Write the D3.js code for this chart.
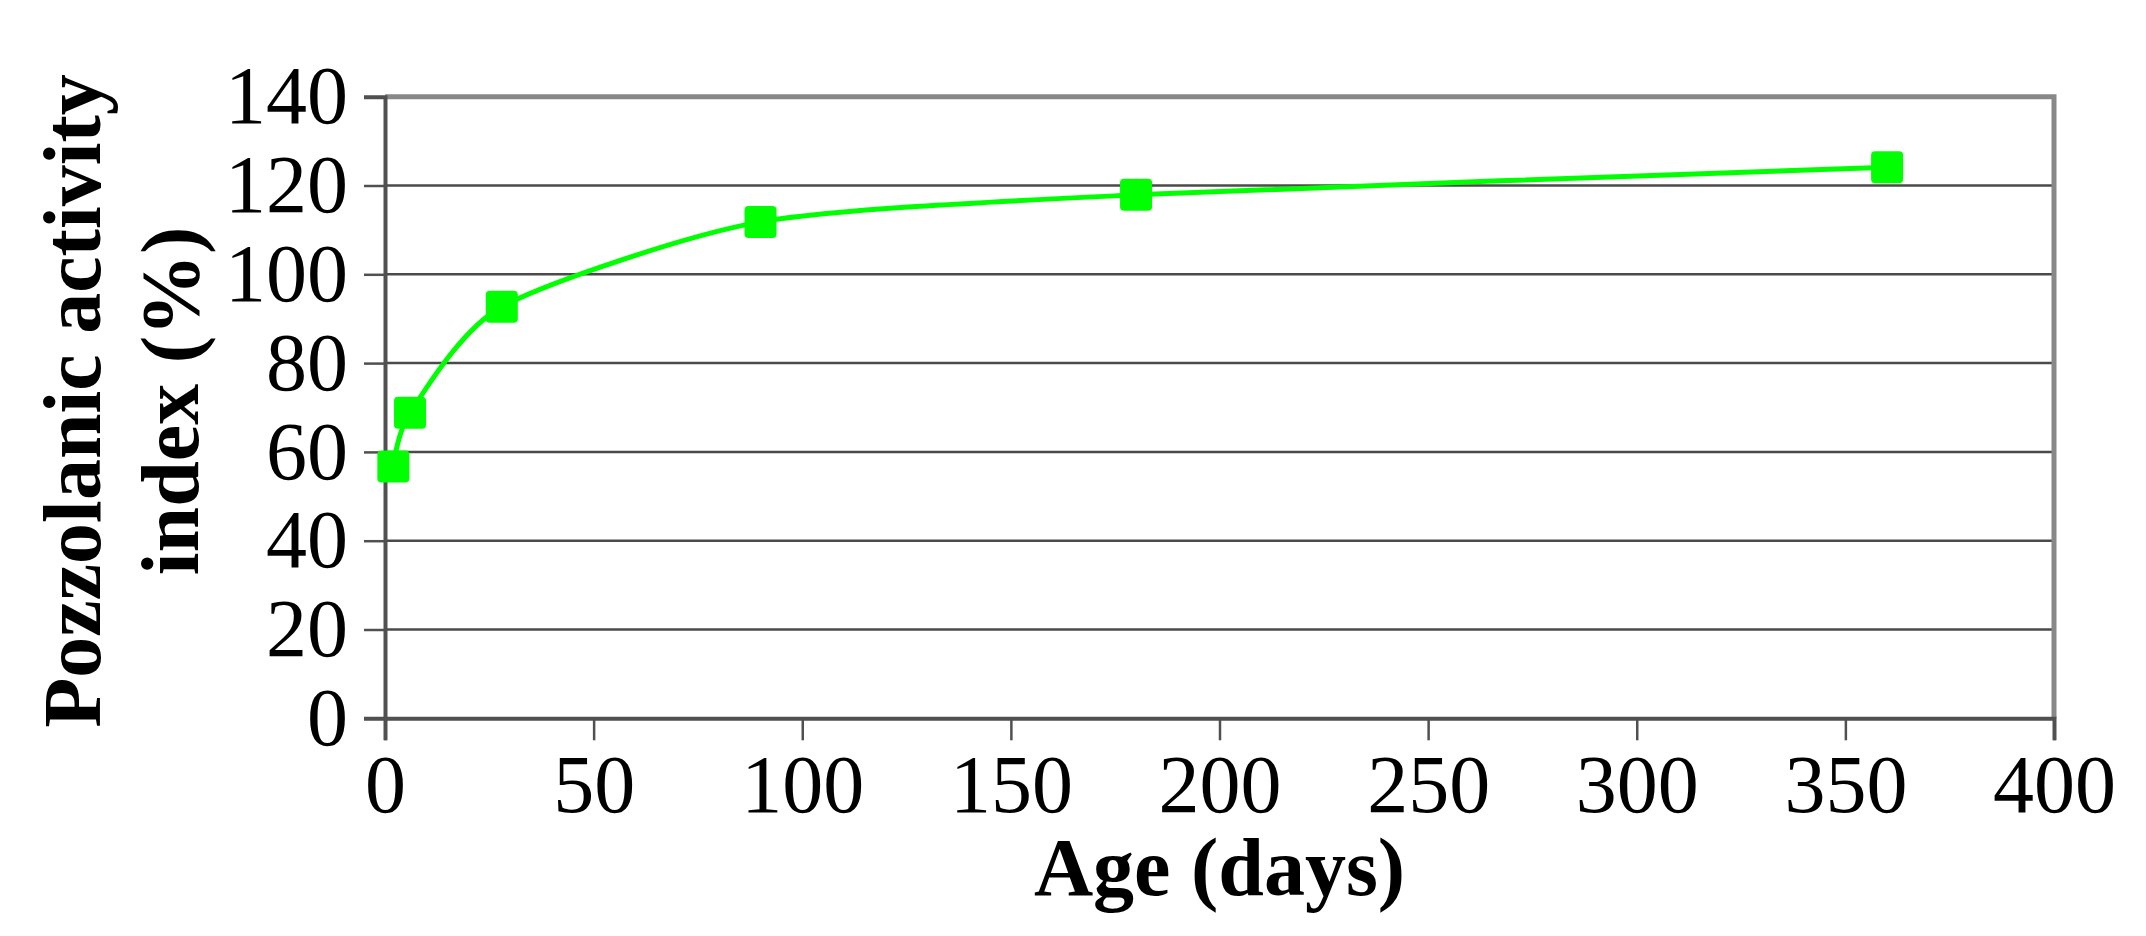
<!DOCTYPE html>
<html>
<head>
<meta charset="utf-8">
<script src="https://cdn.jsdelivr.net/npm/d3@7"></script>
<style>
  html, body { margin: 0; padding: 0; background: #ffffff; }
  svg { display: block; }
</style>
</head>
<body>
<svg id="chart" width="2146" height="936"></svg>
<script>
// ---- data ----
const ageDays = [2, 6, 28, 90, 180, 360];
const activityIndex = [56.7, 68.8, 92.7, 111.8, 117.9, 124.1];
const xTicks = [0, 50, 100, 150, 200, 250, 300, 350, 400];
const yTicks = [0, 20, 40, 60, 80, 100, 120, 140];
const xTitle = "Age (days)";
const yTitleLines = ["Pozzolanic activity", "index (%)"];

(function () {
// ---- layout ----
const pL = 385, pR = 2054, pT = 96.7, pB = 718.3;
const svg = d3.select("#chart");

const x = d3.scaleLinear().domain([0, 400]).range([pL, pR]);
const y = d3.scaleLinear().domain([0, 140]).range([pB, pT]);

const FONT = "'Liberation Serif', 'Times New Roman', serif";
const FS = 82;

// gridlines
svg.append("g").selectAll("line")
  .data(yTicks.filter(d => d > 0 && d < 140))
  .join("line")
  .attr("x1", pL).attr("x2", pR)
  .attr("y1", d => y(d)).attr("y2", d => y(d))
  .attr("stroke", "#4a4a4a").attr("stroke-width", 2.5);

// frame top & right
svg.append("path")
  .attr("d", `M${pL},${pT} H${pR} V${pB}`)
  .attr("fill", "none").attr("stroke", "#888888").attr("stroke-width", 5);

// y axis
const yAxis = d3.axisLeft(y).tickValues(yTicks).tickSize(21).tickPadding(16).tickFormat(d3.format("d"));
const gy = svg.append("g").attr("transform", `translate(${pL},0)`).call(yAxis);
gy.select(".domain").attr("stroke", "#505050").attr("stroke-width", 4);
gy.selectAll(".tick line").attr("stroke", "#505050").attr("stroke-width", 2.5);
gy.selectAll(".tick text").attr("font-family", FONT).attr("font-size", FS).attr("fill", "#000")
  .attr("dy", "0.32em");

// x axis
const xAxis = d3.axisBottom(x).tickValues(xTicks).tickSize(22).tickPadding(13).tickFormat(d3.format("d"));
const gx = svg.append("g").attr("transform", `translate(0,${pB})`).call(xAxis);
gx.select(".domain").attr("stroke", "#505050").attr("stroke-width", 4);
gx.selectAll(".tick line").attr("stroke", "#505050").attr("stroke-width", 2.5);
gx.selectAll(".tick text").attr("font-family", FONT).attr("font-size", FS).attr("fill", "#000")
  .attr("dy", "0.71em");

// line
const pts = ageDays.map((d, i) => [d, activityIndex[i]]);
const line = d3.line().x(d => x(d[0])).y(d => y(d[1])).curve(d3.curveCardinal.tension(0.3));
svg.append("path").datum(pts)
  .attr("d", line)
  .attr("fill", "none").attr("stroke", "#00ff00").attr("stroke-width", 5);

// markers
const M = 32;
svg.append("g").selectAll("rect").data(pts).join("rect")
  .attr("x", d => x(d[0]) - M / 2).attr("y", d => y(d[1]) - M / 2)
  .attr("width", M).attr("height", M).attr("rx", 4)
  .attr("fill", "#00ff00");

// x title
svg.append("text")
  .attr("x", (pL + pR) / 2).attr("y", 895)
  .attr("text-anchor", "middle")
  .attr("font-family", FONT).attr("font-weight", "bold").attr("font-size", FS)
  .text(xTitle);

// y title
const yc = 401;
const yt = svg.append("text")
  .attr("transform", `rotate(-90)`)
  .attr("text-anchor", "middle")
  .attr("font-family", FONT).attr("font-weight", "bold").attr("font-size", FS);
yTitleLines.forEach((t, i) => {
  yt.append("tspan").attr("x", -yc).attr("y", i === 0 ? 100 : 198).text(t);
});
})();
</script>
</body>
</html>
